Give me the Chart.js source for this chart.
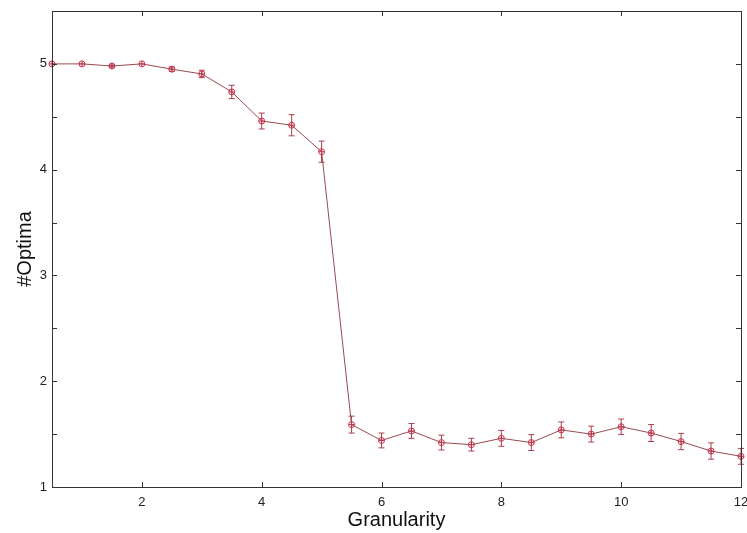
<!DOCTYPE html>
<html>
<head>
<meta charset="utf-8">
<script src="https://cdn.jsdelivr.net/npm/chart.js@4/dist/chart.umd.min.js"></script>
<style>
  html, body { margin: 0; padding: 0; background: #fff; }
  #wrap { width: 747px; height: 533px; }
</style>
</head>
<body>
<div id="wrap"><canvas id="chart" width="747" height="533"></canvas></div>
<script>
// data
const granularity = [0.5, 1, 1.5, 2, 2.5, 3, 3.5, 4, 4.5, 5, 5.5, 6, 6.5, 7, 7.5, 8, 8.5, 9, 9.5, 10, 10.5, 11, 11.5, 12];
const meanOptima = [5.0, 5.0, 4.98, 5.0, 4.95, 4.905, 4.735, 4.46, 4.42, 4.17, 1.59, 1.44, 1.53, 1.42, 1.40, 1.46, 1.42, 1.54, 1.50, 1.57, 1.51, 1.43, 1.34, 1.29];
const errOptima = [0, 0, 0.01, 0, 0.02, 0.035, 0.063, 0.075, 0.1, 0.1, 0.08, 0.07, 0.07, 0.07, 0.06, 0.075, 0.075, 0.075, 0.075, 0.073, 0.08, 0.077, 0.077, 0.075];
const xTicks = [2, 4, 6, 8, 10, 12];
const yTicks = [1, 2, 3, 4, 5];
const yMinorTicks = [1.5, 2.5, 3.5, 4.5];

const points = granularity.map((g, i) => ({ x: g, y: meanOptima[i] }));
const FONT = 'Liberation Sans, Arial, sans-serif';

// frame, inward ticks and error bars
const extras = {
  id: 'extras',
  beforeDatasetsDraw(chart) {
    const { ctx, scales: { x, y } } = chart;
    ctx.save();
    ctx.strokeStyle = '#a8404c';
    ctx.lineWidth = 1;
    granularity.forEach((g, i) => {
      const e = errOptima[i];
      if (!e) return;
      const px = x.getPixelForValue(g);
      const top = y.getPixelForValue(meanOptima[i] + e);
      const bot = y.getPixelForValue(meanOptima[i] - e);
      ctx.beginPath();
      ctx.moveTo(px, top); ctx.lineTo(px, bot);
      ctx.moveTo(px - 3, top); ctx.lineTo(px + 3, top);
      ctx.moveTo(px - 3, bot); ctx.lineTo(px + 3, bot);
      ctx.stroke();
    });
    ctx.restore();
  },
  afterDraw(chart) {
    const { ctx, chartArea: a, scales: { x, y } } = chart;
    ctx.save();
    ctx.strokeStyle = '#333';
    ctx.lineWidth = 1;
    ctx.strokeRect(a.left + 0.5, a.top + 0.5, a.right - a.left, a.bottom - a.top);
    ctx.beginPath();
    xTicks.forEach(t => {
      const px = Math.round(x.getPixelForValue(t)) + 0.5;
      ctx.moveTo(px, a.bottom); ctx.lineTo(px, a.bottom - 5);
      ctx.moveTo(px, a.top); ctx.lineTo(px, a.top + 5);
    });
    yTicks.concat(yMinorTicks).forEach(t => {
      const py = Math.round(y.getPixelForValue(t)) + 0.5;
      ctx.moveTo(a.left, py); ctx.lineTo(a.left + 5, py);
      ctx.moveTo(a.right, py); ctx.lineTo(a.right - 5, py);
    });
    ctx.stroke();
    ctx.restore();
  }
};

new Chart(document.getElementById('chart'), {
  type: 'line',
  data: {
    datasets: [{
      data: points,
      borderColor: '#9a4a52',
      borderWidth: 1,
      pointStyle: 'circle',
      pointRadius: 3,
      pointBorderColor: '#d0304a',
      pointBackgroundColor: 'rgba(255,255,255,0)',
      pointBorderWidth: 1,
      tension: 0,
      clip: false
    }, {
      data: points,
      showLine: false,
      pointStyle: 'cross',
      pointRadius: 3,
      pointBorderColor: '#c03048',
      pointBorderWidth: 1,
      clip: false
    }]
  },
  options: {
    responsive: false,
    animation: false,
    layout: { padding: { left: 0, right: 6, top: 11, bottom: 0 } },
    plugins: { legend: { display: false }, tooltip: { enabled: false } },
    scales: {
      x: {
        type: 'linear',
        min: 0.5,
        max: 12,
        afterBuildTicks: s => { s.ticks = xTicks.map(v => ({ value: v })); },
        afterFit: s => { s.height = 46; s.paddingLeft = 0; s.paddingRight = 0; },
        grid: { display: false, drawTicks: false },
        border: { display: false },
        ticks: { padding: 8, color: '#222', font: { family: FONT, size: 13 }, maxRotation: 0 },
        title: { display: true, text: 'Granularity', color: '#111', font: { family: FONT, size: 20 }, padding: { top: 0, bottom: 1 } }
      },
      y: {
        type: 'linear',
        min: 1,
        max: 5.5,
        afterBuildTicks: s => { s.ticks = yTicks.map(v => ({ value: v })); },
        afterFit: s => { s.width = 52; s.paddingTop = 0; s.paddingBottom = 0; },
        grid: { display: false, drawTicks: false },
        border: { display: false },
        ticks: { padding: 5, color: '#222', font: { family: FONT, size: 13 } },
        title: { display: true, text: '#Optima', color: '#111', font: { family: FONT, size: 20 }, padding: { top: 13, bottom: 0 } }
      }
    }
  },
  plugins: [extras]
});
</script>
</body>
</html>
